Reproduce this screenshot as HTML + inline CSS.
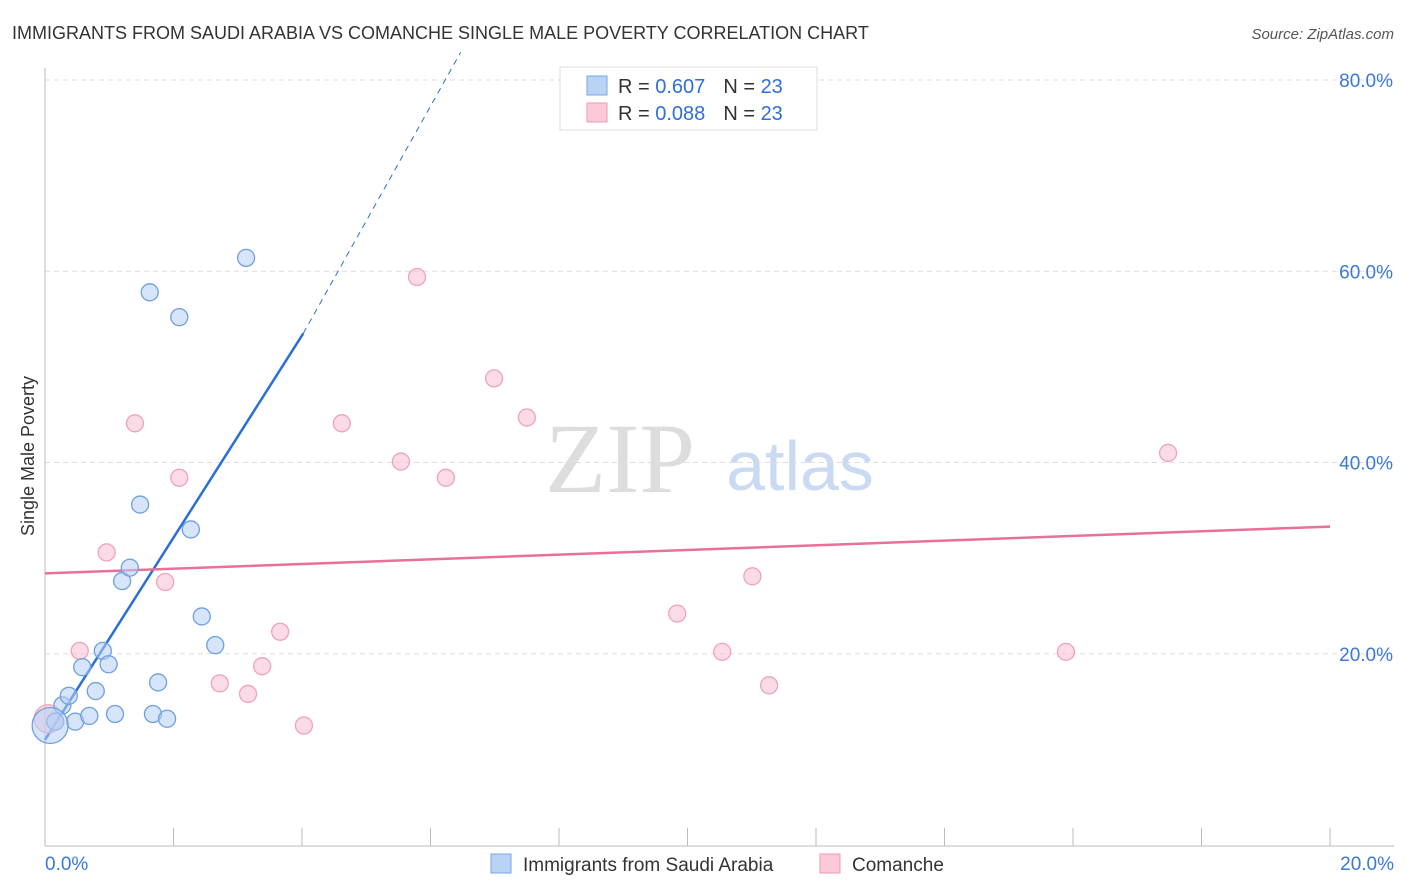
<!DOCTYPE html>
<html><head><meta charset="utf-8"><style>
body{margin:0;background:#fff;font-family:"Liberation Sans",sans-serif;}
svg{display:block}
</style></head><body>
<svg id="chart" width="1406" height="892">
<text x="12" y="39" font-size="18" fill="#333">IMMIGRANTS FROM SAUDI ARABIA VS COMANCHE SINGLE MALE POVERTY CORRELATION CHART</text>
<text x="1394" y="39" font-size="15" fill="#555" font-style="italic" text-anchor="end">Source: ZipAtlas.com</text>
<text x="620" y="492" font-size="100" fill="#ddd" font-family="Liberation Serif,serif" text-anchor="middle">ZIP</text>
<text x="800" y="490" font-size="70" fill="#c9daf2" text-anchor="middle">atlas</text>
<g id="grid"></g><g id="axes"></g><g id="lines"></g><g id="pts"></g>
<text x="34" y="456" font-size="18" fill="#333" transform="rotate(-90 34 456)" text-anchor="middle">Single Male Poverty</text>
<g>
<rect x="560" y="67" width="257" height="63" fill="#fff" stroke="#ddd"/>
<rect x="587" y="76" width="20" height="19" fill="#b9d3f5" stroke="#7aa6e6"/>
<rect x="587" y="103" width="20" height="19" fill="#fbc9d7" stroke="#ef9ab3"/>
<text x="618" y="93" font-size="20" fill="#333">R = <tspan fill="#2f6fd6">0.607</tspan><tspan dx="18">N = </tspan><tspan fill="#2f6fd6">23</tspan></text>
<text x="618" y="120" font-size="20" fill="#333">R = <tspan fill="#2f6fd6">0.088</tspan><tspan dx="18">N = </tspan><tspan fill="#2f6fd6">23</tspan></text>
</g>
<g>
<rect x="491" y="854" width="20" height="19" fill="#b9d3f5" stroke="#7aa6e6"/>
<text x="523" y="871" font-size="19" fill="#333">Immigrants from Saudi Arabia</text>
<rect x="820" y="854" width="20" height="19" fill="#fbc9d7" stroke="#ef9ab3"/>
<text x="852" y="871" font-size="19" fill="#333">Comanche</text>
</g>
</svg>
<script>
const yTicks=[20,40,60,80];
const yTickLabels=["20.0%","40.0%","60.0%","80.0%"];
const xLabels=["0.0%","20.0%"];
const saudiX=[0.16,0.27,0.37,0.47,0.58,0.69,0.79,0.90,0.99,1.09,1.20,1.32,1.48,1.63,1.68,1.76,1.90,2.09,2.27,2.44,2.65,3.13,0.08];
const saudiY=[12.9,14.6,15.6,12.9,18.6,13.5,16.1,20.3,18.9,13.7,27.6,29.0,35.6,57.8,13.7,17.0,13.2,55.2,33.0,23.9,20.9,61.4,12.5];
const comX=[0.05,0.54,0.96,1.40,1.87,2.09,2.72,3.16,3.38,3.66,4.03,4.62,5.54,5.79,6.24,6.99,7.50,9.84,10.54,11.01,11.27,15.89,17.48];
const comY=[13.2,20.3,30.6,44.1,27.5,38.4,16.9,15.8,18.7,22.3,12.5,44.1,40.1,59.4,38.4,48.8,44.7,24.2,20.2,28.1,16.7,20.2,41.0];
const saudiFit=[11.0,53.5,82.9];  // y at x=0, end of solid, end of dashed
const saudiFitX=[0,4.02,6.47];
const comFit=[28.4,33.3];
const NS="http://www.w3.org/2000/svg";
const X=v=>45+v/20*1285, Y=v=>845-v*9.5625;
function mk(t,a,p){const e=document.createElementNS(NS,t);for(const k in a)e.setAttribute(k,a[k]);document.getElementById(p).appendChild(e);return e;}
yTicks.forEach((t,i)=>{
 const g=mk('line',{x1:45,x2:1394,y1:Y(t),y2:Y(t),stroke:'#ddd','stroke-dasharray':'5,4'},'grid');
 
 
 const l=mk('text',{x:1393,y:Y(t)+7,'font-size':19,fill:'#3b78d8','text-anchor':'end'},'axes');l.textContent=yTickLabels[i];
 
 
});
mk('line',{x1:45,x2:45,y1:68,y2:846,stroke:'#bbb'},'axes');
mk('line',{x1:45,x2:1394,y1:846,y2:846,stroke:'#bbb'},'axes');
for(let i=0;i<=10;i++){const t=mk('line',{x1:X(i*2),x2:X(i*2),y1:828,y2:846,stroke:'#bbb'},'axes');
 
 }
[[0,'start',45],[20,'end',1394]].forEach((d,i)=>{const l=mk('text',{x:d[2],y:870,'font-size':19,fill:'#3b78d8','text-anchor':d[1]},'axes');l.textContent=xLabels[i];
 
 });
let l1=mk('line',{x1:X(saudiFitX[0]),y1:Y(saudiFit[0]),x2:X(saudiFitX[1]),y2:Y(saudiFit[1]),stroke:'#2a6fd6','stroke-width':2.5},'lines');


let l2=mk('line',{x1:X(saudiFitX[1]),y1:Y(saudiFit[1]),x2:X(saudiFitX[2]),y2:Y(saudiFit[2]),stroke:'#2a6fd6','stroke-width':1,'stroke-dasharray':'6,5'},'lines');


let l3=mk('line',{x1:X(0),y1:Y(comFit[0]),x2:X(20),y2:Y(comFit[1]),stroke:'#e8709a','stroke-width':2.5},'lines');


comX.forEach((v,i)=>{const c=mk('circle',{cx:X(v),cy:Y(comY[i]),r:i==0?14:8.5,fill:'rgba(248,190,208,0.55)',stroke:'#f0a2ba','stroke-width':1.3},'pts');
 
 });
saudiX.forEach((v,i)=>{const c=mk('circle',{cx:X(v),cy:Y(saudiY[i]),r:i==22?18:8.5,fill:'rgba(180,208,244,0.55)',stroke:'#6f9fe0','stroke-width':1.3},'pts');
 
 });
</script>
</body></html>
